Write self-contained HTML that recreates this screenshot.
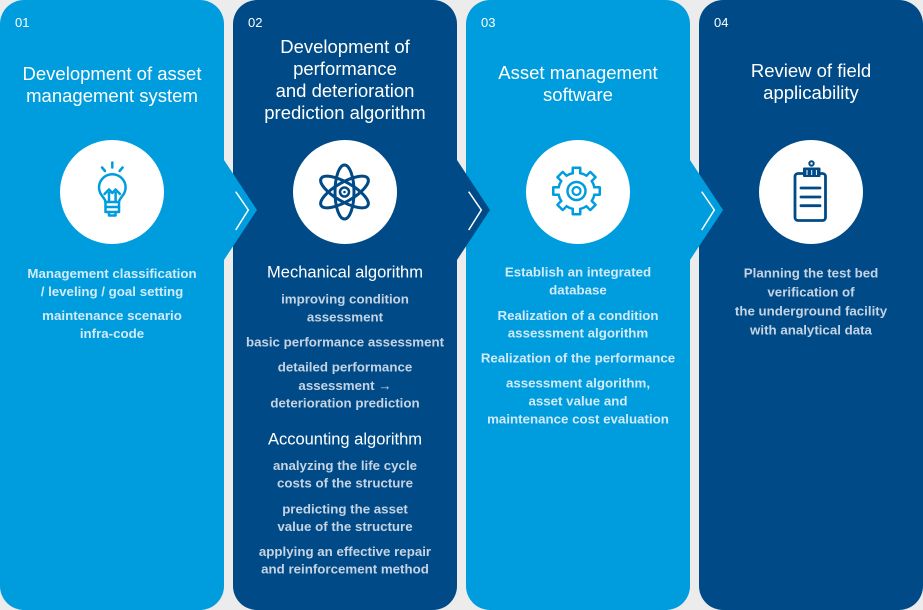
<!DOCTYPE html>
<html>
<head>
<meta charset="utf-8">
<style>
  html,body{margin:0;padding:0;background:#ececec;}
  body{width:923px;height:610px;overflow:hidden;}
  svg{display:block;}
  text{font-family:"Liberation Sans",Arial,sans-serif;}
  .num{font-size:13px;fill:#ffffff;}
  .ttl{font-size:18.5px;fill:#ffffff;text-anchor:middle;}
  .sub{font-size:16.5px;fill:#ffffff;text-anchor:middle;}
  .bl{font-size:13.3px;font-weight:bold;fill:#d2eaf8;text-anchor:middle;}
  .bd{font-size:13.3px;font-weight:bold;fill:#c6d3e3;text-anchor:middle;}
</style>
</head>
<body>
<svg width="923" height="610" viewBox="0 0 923 610" xmlns="http://www.w3.org/2000/svg">
  <rect x="0" y="0" width="923" height="610" fill="#ececec"/>
  <!-- panels -->
  <rect x="0" y="0" width="224" height="610" rx="24" fill="#009dde"/>
  <rect x="233" y="0" width="224" height="610" rx="24" fill="#004b87"/>
  <rect x="466" y="0" width="224" height="610" rx="24" fill="#009dde"/>
  <rect x="699" y="0" width="224" height="610" rx="24" fill="#004b87"/>

  <!-- arrows -->
  <polygon points="222,157 257,210 222,263" fill="#009dde"/>
  <polyline points="235.7,191.7 248.3,210 235.7,230" fill="none" stroke="#ffffff" stroke-width="1.5"/>
  <polygon points="455,157 490,210 455,263" fill="#004b87"/>
  <polyline points="468.7,191.7 481.3,210 468.7,230" fill="none" stroke="#ffffff" stroke-width="1.5"/>
  <polygon points="688,157 723,210 688,263" fill="#009dde"/>
  <polyline points="701.7,191.7 714.3,210 701.7,230" fill="none" stroke="#ffffff" stroke-width="1.5"/>

  <!-- circles -->
  <circle cx="112" cy="192" r="52" fill="#ffffff"/>
  <circle cx="345" cy="192" r="52" fill="#ffffff"/>
  <circle cx="578" cy="192" r="52" fill="#ffffff"/>
  <circle cx="811" cy="192" r="52" fill="#ffffff"/>

  <!-- bulb icon -->
  <g fill="none" stroke="#009dde" stroke-width="2.5" stroke-linecap="round" stroke-linejoin="round">
    <line x1="112.3" y1="162.5" x2="112.3" y2="167.5"/>
    <line x1="102" y1="167.5" x2="105" y2="171"/>
    <line x1="122.6" y1="167.5" x2="119.6" y2="171"/>
    <path d="M105.5,202 C105.5,198 99,195 99,187.5 A13.3,13.3 0 1 1 125.6,187.5 C125.6,195 119,198 119,202"/>
    <path d="M105.5,202 V212 H119 V202 Z"/>
    <line x1="105.5" y1="207" x2="119" y2="207"/>
    <path d="M109,212 V215.5 H115.5 V212"/>
    <path d="M109,202 V193 M115.6,202 V193 M104.5,194 L109,189.5 L112.3,193 L115.6,189.5 L120,194"/>
  </g>

  <!-- atom icon -->
  <g fill="none" stroke="#004b87" stroke-width="3">
    <ellipse cx="344.5" cy="192" rx="27" ry="9.5" transform="rotate(90 344.5 192)"/>
    <ellipse cx="344.5" cy="192" rx="27" ry="9.5" transform="rotate(30 344.5 192)"/>
    <ellipse cx="344.5" cy="192" rx="27" ry="9.5" transform="rotate(-30 344.5 192)"/>
    <circle cx="344.5" cy="192" r="4.5" stroke-width="2.5"/>
  </g>
  <circle cx="344.5" cy="192" r="1.3" fill="#004b87"/>

  <!-- gear icon -->
  <g transform="translate(576.5,191)">
    <g fill="#009dde">
      <circle cx="0" cy="0" r="19.5"/>
      <rect x="-5" y="-24.5" width="10" height="49" rx="1.5"/>
      <rect x="-5" y="-24.5" width="10" height="49" rx="1.5" transform="rotate(45)"/>
      <rect x="-5" y="-24.5" width="10" height="49" rx="1.5" transform="rotate(90)"/>
      <rect x="-5" y="-24.5" width="10" height="49" rx="1.5" transform="rotate(135)"/>
    </g>
    <g fill="#ffffff">
      <circle cx="0" cy="0" r="17"/>
      <rect x="-2.5" y="-22" width="5" height="44" transform="rotate(0)"/>
      <rect x="-2.5" y="-22" width="5" height="44" transform="rotate(45)"/>
      <rect x="-2.5" y="-22" width="5" height="44" transform="rotate(90)"/>
      <rect x="-2.5" y="-22" width="5" height="44" transform="rotate(135)"/>
    </g>
    <circle cx="0" cy="0" r="9" fill="none" stroke="#009dde" stroke-width="2.5"/>
    <circle cx="0" cy="0" r="4" fill="none" stroke="#009dde" stroke-width="2.2"/>
  </g>

  <!-- clipboard icon -->
  <g fill="none" stroke="#004b87" stroke-width="2.8" stroke-linecap="round">
    <rect x="795" y="173.5" width="30.5" height="47" rx="3"/>
    <line x1="801" y1="188" x2="820" y2="188"/>
    <line x1="801" y1="197" x2="820" y2="197"/>
    <line x1="801" y1="205.7" x2="820" y2="205.7"/>
    <circle cx="811.5" cy="163.5" r="2.2" stroke-width="2"/>
  </g>
  <rect x="803" y="167.5" width="17.5" height="9.5" rx="1" fill="#004b87"/>
  <g stroke="#ffffff" stroke-width="1">
    <line x1="807" y1="170" x2="807" y2="175"/>
    <line x1="811.7" y1="170" x2="811.7" y2="175"/>
    <line x1="816.4" y1="170" x2="816.4" y2="175"/>
  </g>

  <!-- numbers -->
  <text class="num" x="15" y="27">01</text>
  <text class="num" x="248" y="27">02</text>
  <text class="num" x="481" y="27">03</text>
  <text class="num" x="714" y="27">04</text>

  <!-- titles -->
  <text class="ttl" x="112" y="80">Development of asset</text>
  <text class="ttl" x="112" y="102">management system</text>

  <text class="ttl" x="345" y="53">Development of</text>
  <text class="ttl" x="345" y="75">performance</text>
  <text class="ttl" x="345" y="97">and deterioration</text>
  <text class="ttl" x="345" y="119">prediction algorithm</text>

  <text class="ttl" x="578" y="79">Asset management</text>
  <text class="ttl" x="578" y="101">software</text>

  <text class="ttl" x="811" y="77">Review of field</text>
  <text class="ttl" x="811" y="99">applicability</text>

  <!-- panel 1 body -->
  <text class="bl" x="112" y="278">Management classification</text>
  <text class="bl" x="112" y="296">/ leveling / goal setting</text>
  <text class="bl" x="112" y="320">maintenance scenario</text>
  <text class="bl" x="112" y="338">infra-code</text>

  <!-- panel 2 body -->
  <text class="sub" x="345" y="277.5">Mechanical algorithm</text>
  <text class="bd" x="345" y="303.5">improving condition</text>
  <text class="bd" x="345" y="321.5">assessment</text>
  <text class="bd" x="345" y="346.7">basic performance assessment</text>
  <text class="bd" x="345" y="371.7">detailed performance</text>
  <text class="bd" x="345" y="390">assessment  →</text>
  <text class="bd" x="345" y="407.7">deterioration prediction</text>
  <text class="sub" x="345" y="444.3">Accounting algorithm</text>
  <text class="bd" x="345" y="470">analyzing the life cycle</text>
  <text class="bd" x="345" y="487.7">costs of the structure</text>
  <text class="bd" x="345" y="513.3">predicting the asset</text>
  <text class="bd" x="345" y="531">value of the structure</text>
  <text class="bd" x="345" y="556">applying an effective repair</text>
  <text class="bd" x="345" y="573.3">and reinforcement method</text>

  <!-- panel 3 body -->
  <text class="bl" x="578" y="276.7">Establish an integrated</text>
  <text class="bl" x="578" y="294.3">database</text>
  <text class="bl" x="578" y="320">Realization of a condition</text>
  <text class="bl" x="578" y="337.7">assessment algorithm</text>
  <text class="bl" x="578" y="362.7">Realization of the performance</text>
  <text class="bl" x="578" y="387.7">assessment algorithm,</text>
  <text class="bl" x="578" y="405.7">asset value and</text>
  <text class="bl" x="578" y="423.3">maintenance cost evaluation</text>

  <!-- panel 4 body -->
  <text class="bd" x="811" y="277.7">Planning the test bed</text>
  <text class="bd" x="811" y="296.7">verification of</text>
  <text class="bd" x="811" y="315.7">the underground facility</text>
  <text class="bd" x="811" y="334.3">with analytical data</text>
</svg>
</body>
</html>
